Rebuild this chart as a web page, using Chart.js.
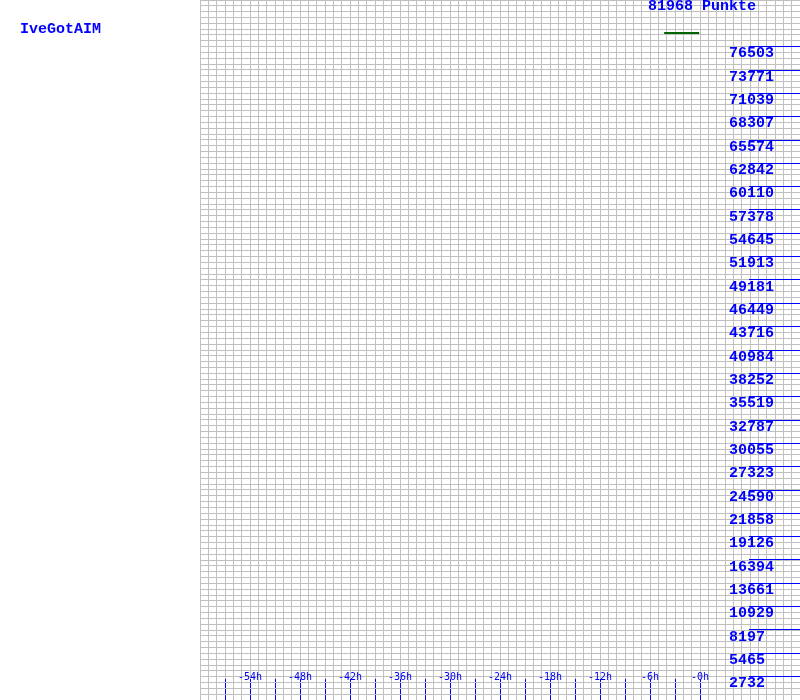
<!DOCTYPE html>
<html>
<head>
<meta charset="utf-8">
<script src="https://cdn.jsdelivr.net/npm/chart.js@4/dist/chart.umd.min.js"></script>
<style>
html,body{margin:0;padding:0;background:#fff;}
canvas{display:block;}
</style>
</head>
<body>
<canvas id="c" width="800" height="700"></canvas>
<script>
// ---- data ----
const playerName = "IveGotAIM";
const totalLabel = "81968 Punkte";
const yMax = 81968;
const xMinHours = -60;
const xMaxHours = 12;
const yTickValues = [2732, 5465, 8197, 10929, 13661, 16394, 19126, 21858, 24590, 27323,
  30055, 32787, 35519, 38252, 40984, 43716, 46449, 49181, 51913, 54645, 57378, 60110,
  62842, 65574, 68307, 71039, 73771, 76503];
const xLabelHours = [-54, -48, -42, -36, -30, -24, -18, -12, -6, 0];
const xLabelTexts = ["-54h", "-48h", "-42h", "-36h", "-30h", "-24h", "-18h", "-12h", "-6h", "-0h"];
const xTickMarkMin = -57;
const xTickMarkMax = 0;
const seriesHours = [-4.3, -0.1];
const seriesPoints = [78100, 78100];

const BLUE = '#0000ff';
const GRID = '#c0c0c0';
const BIG_FAMILY = '"Liberation Mono", "DejaVu Sans Mono", monospace';
const BIG_FONT = {family: BIG_FAMILY, size: 15, weight: 'bold'};

const textPlugin = {
  id: 'texts',
  afterDraw(chart) {
    const ctx = chart.ctx;
    const xs = chart.scales.x;
    ctx.save();
    ctx.fillStyle = BLUE;
    ctx.font = 'bold 15px ' + BIG_FAMILY;
    ctx.textBaseline = 'alphabetic';
    ctx.textAlign = 'center';
    ctx.fillText(totalLabel, xs.getPixelForValue(0) + 2, 10);
    ctx.textAlign = 'left';
    ctx.fillText(playerName, 20, 33);
    ctx.restore();
  }
};

function zeroPad(s) { s.paddingLeft = 0; s.paddingRight = 0; s.paddingTop = 0; s.paddingBottom = 0; }

new Chart(document.getElementById('c'), {
  type: 'line',
  data: {
    datasets: [{
      label: playerName,
      data: seriesHours.map((h, i) => ({x: h, y: seriesPoints[i]})),
      borderColor: '#006400',
      borderWidth: 2,
      pointRadius: 0,
      fill: false,
      xAxisID: 'x',
      yAxisID: 'y'
    }]
  },
  options: {
    responsive: false,
    animation: false,
    events: [],
    layout: {padding: {left: 200, right: 0, top: 0, bottom: 0}},
    plugins: {legend: {display: false}, title: {display: false}, tooltip: {enabled: false}},
    scales: {
      x: {
        type: 'linear', position: 'bottom', min: xMinHours, max: xMaxHours,
        ticks: {display: false, stepSize: 1},
        grid: {color: GRID, lineWidth: 1, drawTicks: false},
        border: {display: false},
        afterFit(s) { s.height = 0; zeroPad(s); }
      },
      x2: {
        type: 'linear', position: 'bottom', min: xMinHours, max: xMaxHours,
        ticks: {
          stepSize: 3, mirror: true, padding: 16.5, autoSkip: false, maxRotation: 0, minRotation: 0,
          color: BLUE, font: {family: 'DejaVu Sans Mono', size: 10},
          callback(v) { const i = xLabelHours.indexOf(v); return i >= 0 ? xLabelTexts[i] : ''; }
        },
        grid: {
          drawOnChartArea: false, drawTicks: true, tickLength: -21, lineWidth: 1,
          color(ctx) { const v = ctx.tick ? ctx.tick.value : NaN; return (v >= xTickMarkMin && v <= xTickMarkMax) ? BLUE : 'rgba(0,0,0,0)'; }
        },
        border: {display: false},
        afterFit(s) { s.height = 0; zeroPad(s); }
      },
      y: {
        type: 'linear', position: 'left', min: 0, max: yMax,
        ticks: {display: false, stepSize: yMax / 120},
        grid: {color: GRID, lineWidth: 1, drawTicks: false},
        border: {display: false},
        afterFit(s) { s.width = 0; zeroPad(s); }
      },
      y2: {
        type: 'linear', position: 'right', min: 0, max: yMax,
        afterBuildTicks(s) { s.ticks = yTickValues.map(v => ({value: v})); },
        ticks: {
          mirror: true, crossAlign: 'far', padding: -26, labelOffset: 7,
          color: BLUE, font: BIG_FONT,
          callback(v) { return String(Math.round(v)); }
        },
        grid: {drawOnChartArea: false, drawTicks: true, tickLength: -51, color: BLUE, lineWidth: 1},
        border: {display: false},
        afterFit(s) { s.width = 0; zeroPad(s); }
      }
    }
  },
  plugins: [textPlugin]
});
</script>
</body>
</html>
